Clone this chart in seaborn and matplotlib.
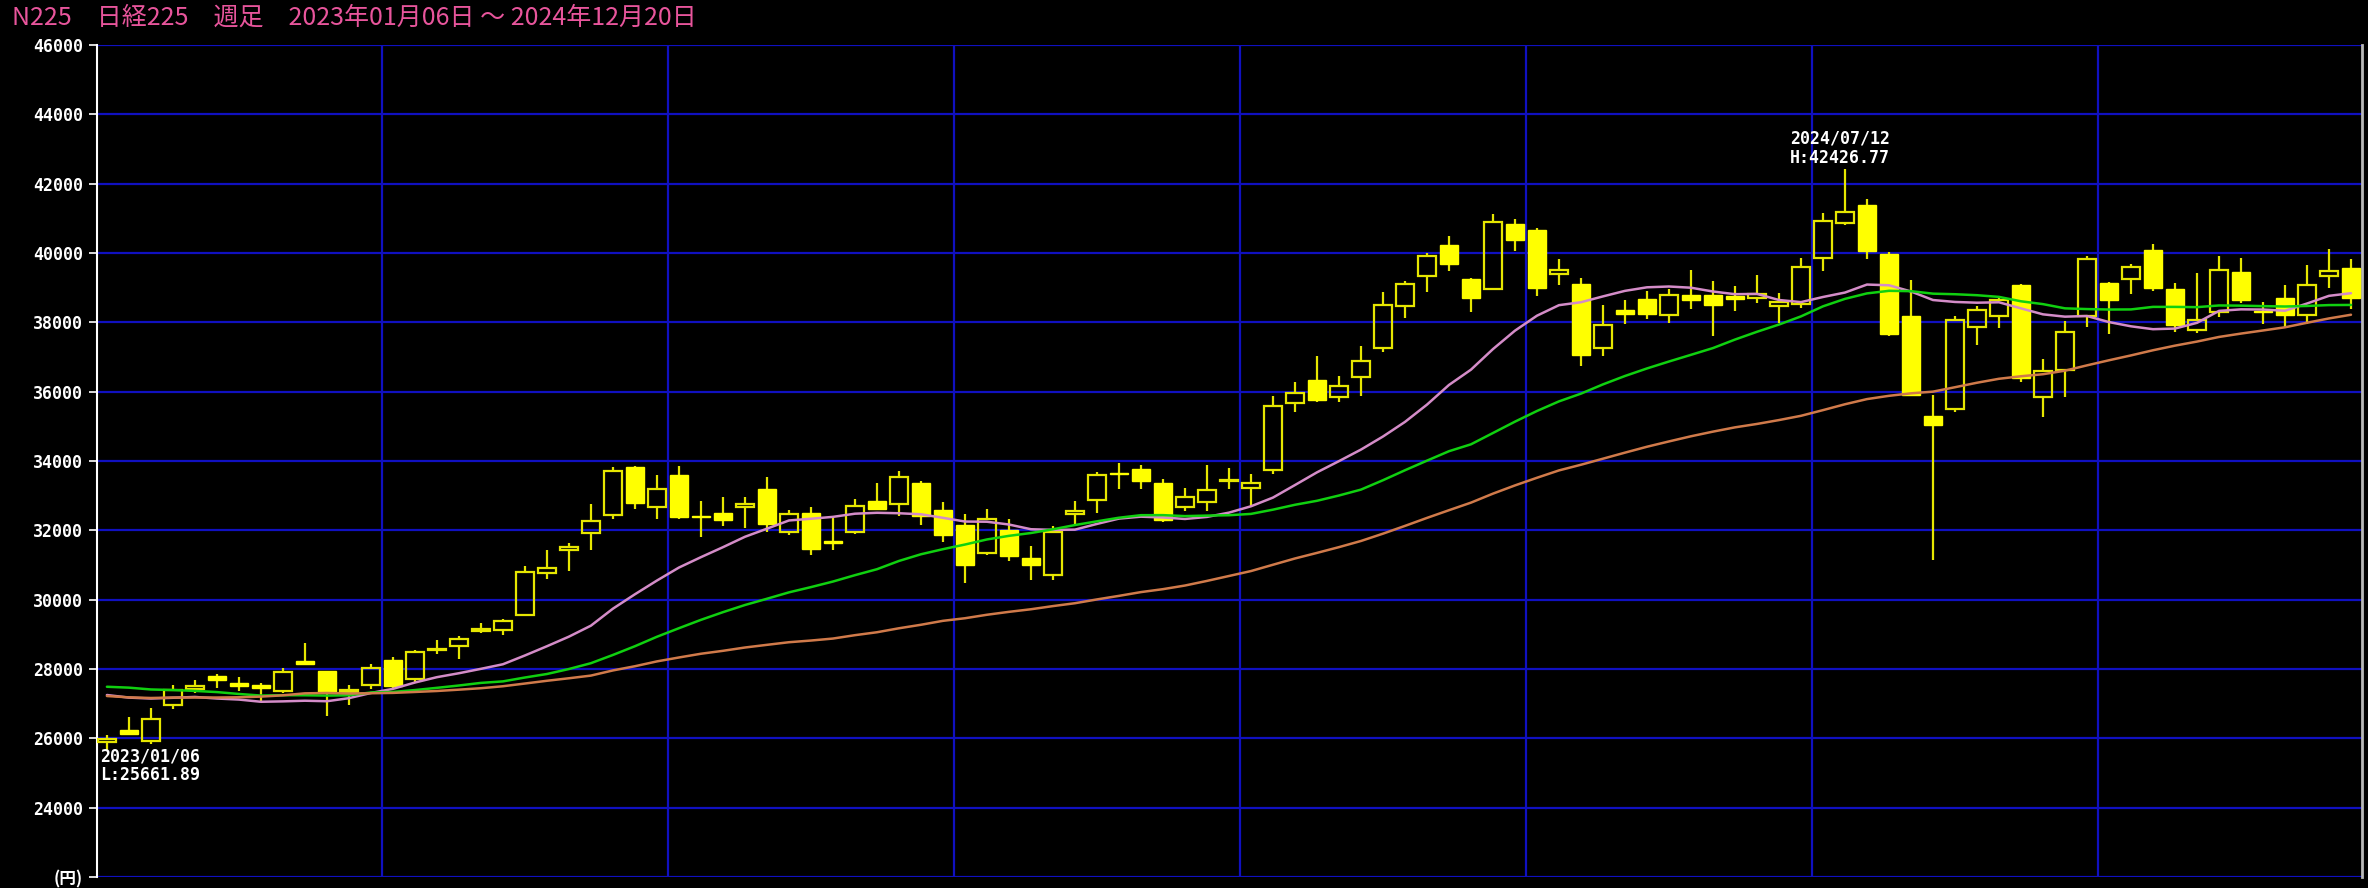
import numpy as np
import pandas as pd
import matplotlib
matplotlib.use("Agg")
import matplotlib.pyplot as plt
import seaborn as sns

# ---------------- data ----------------
title = "N225　日経225　週足　2023年01月06日 ～ 2024年12月20日"
start_date = "2023-01-06"

opens = [25880, 26230, 25910, 26950, 27430, 27810, 27600, 27552, 27361, 28237,
         27942, 27342, 27533, 28257, 27700, 28540, 28661, 29094, 29122, 29556,
         30777, 31441, 31912, 32432, 33836, 32682, 33586, 32420, 32499, 32682,
         33192, 31951, 32490, 31682, 31951, 32846, 32749, 33375, 32586, 32143,
         31355, 32018, 31201, 30700, 32480, 32865, 33663, 33760, 33365, 32682,
         32826, 33423, 33211, 33735, 35670, 36331, 35842, 36436, 37251, 38467,
         39329, 40220, 39262, 38975, 40824, 40651, 39398, 39106, 37262, 38368,
         38679, 38213, 38796, 38796, 38767, 38709, 38485, 38524, 39855, 40865,
         41394, 39980, 38190, 35304, 35497, 37863, 38171, 39066, 35843, 36632,
         38190, 39139, 39244, 40077, 38957, 37780, 38306, 39445, 38325, 38708,
         38210, 39330, 39569]
highs = [26100, 26610, 26870, 27540, 27685, 27866, 27771, 27600, 28028, 28751,
         27950, 27542, 28142, 28334, 28550, 28824, 28950, 29334, 29450, 30970,
         31422, 31624, 32749, 33836, 33850, 33586, 33856, 32846, 32971, 32971,
         33538, 32595, 32672, 32374, 32894, 33375, 33711, 33423, 32817, 32461,
         32605, 32336, 31547, 32124, 32846, 33682, 33933, 33885, 33490, 33230,
         33885, 33788, 33615, 35861, 36293, 37030, 36465, 37327, 38879, 39186,
         40000, 40479, 39270, 41130, 40987, 40728, 39815, 39281, 38504, 38631,
         38893, 38970, 39505, 39194, 39058, 39369, 38844, 39844, 41153, 42426.77,
         41567, 40018, 39230, 35910, 38190, 38460, 38748, 39114, 36940, 38027,
         39900, 39150, 39694, 40268, 39139, 39435, 39904, 39866, 38574, 39091,
         39646, 40124, 39818]
lows = [25661.89, 26100, 25830, 26860, 27295, 27438, 27361, 27047, 27295, 28123,
        26632, 26971, 27409, 27427, 27603, 28440, 28276, 29046, 28969, 29527,
        30604, 30826, 31431, 32316, 32605, 32336, 32336, 31816, 32124, 32076,
        31951, 31864, 31287, 31432, 31884, 32586, 32413, 32143, 31672, 30487,
        31300, 31114, 30556, 30566, 32143, 32509, 33202, 33202, 32249, 32557,
        32557, 33202, 32693, 33639, 35402, 35699, 35699, 35861, 37155, 38113,
        38879, 39483, 38285, 38946, 40057, 38764, 39077, 36733, 37029, 37951,
        38087, 37990, 38378, 37617, 38339, 38553, 37970, 38427, 39470, 40817,
        39826, 37594, 35862, 31156, 35400, 37354, 37835, 36267, 35266, 35843,
        37863, 37655, 38804, 38909, 37732, 37700, 38163, 38565, 37942, 37828,
        37952, 38976, 38373]
closes = [25973.85, 26119.52, 26553.53, 27382.56, 27509.46, 27670.98, 27513.13, 27453.48,
          27927.47, 28143.97, 27333.79, 27385.25, 28041.48, 27518.31, 28493.47, 28564.37,
          28856.44, 29157.95, 29388.30, 30808.35, 30916.31, 31524.22, 32265.17, 33706.08,
          32781.54, 33189.04, 32388.42, 32391.26, 32304.25, 32759.23, 32192.75, 32473.65,
          31450.76, 31624.28, 32710.62, 32606.84, 33533.09, 32402.41, 31857.62, 30994.67,
          32315.99, 31259.36, 30991.69, 31949.89, 32568.11, 33585.20, 33625.53, 33431.51,
          32307.86, 32970.55, 33169.05, 33464.17, 33377.42, 35577.11, 35963.27, 35751.07,
          36158.02, 36897.42, 38487.24, 39098.68, 39910.82, 39688.94, 38707.64, 40888.43,
          40369.44, 38992.08, 39523.55, 37068.35, 37934.76, 38236.07, 38229.11, 38787.38,
          38646.11, 38487.90, 38683.93, 38814.56, 38596.47, 39583.08, 40912.37, 41190.68,
          40063.79, 37667.41, 35909.70, 35025.00, 38062.67, 38364.27, 38647.75, 36391.47,
          36581.76, 37723.91, 39829.56, 38635.62, 39605.80, 38981.75, 37913.92, 38053.67,
          39500.37, 38642.91, 38283.85, 38208.03, 39091.17, 39470.44, 38701.90]
# weekly closes of the preceding year (needed for the moving averages)
closes_2022 = [28478.56, 28124.28, 27522.26, 26717.34, 27439.99, 27696.08, 27122.07, 26476.50,
               25985.47, 25162.78, 26827.43, 28149.84, 27665.98, 26985.80, 27093.19, 27105.26,
               26847.90, 27003.56, 26427.65, 26739.03, 26781.68, 27761.57, 28246.53, 25963.00,
               26491.97, 25935.62, 26517.19, 26788.47, 27914.66, 27801.64, 28175.87, 28546.98,
               28930.33, 28641.38, 27650.84, 28214.75, 27567.65, 27153.83, 25937.21, 27116.11,
               27090.76, 26890.58, 27105.20, 27199.74, 28263.57, 27899.77, 28283.03, 27777.90,
               27901.01, 27527.12, 26235.25, 26094.50]
ma_windows = [13, 26, 52]
ma_colors = ["#D48CC8", "#10D010", "#D07A4A"]
ytick_values = list(range(24000, 46001, 2000))
y_min, y_max = 22000, 46000
low_note = "2023/01/06\nL:25661.89"
high_note = "2024/07/12\nH:42426.77"

# ---------------- derived ----------------
n = len(closes)
xi = np.arange(n)
o = np.array(opens, float); h = np.array(highs, float)
l = np.array(lows, float); c = np.array(closes, float)
dates = pd.date_range(start_date, periods=n, freq="W-FRI")
allc = pd.Series(closes_2022 + closes)
mas = {w: allc.rolling(w).mean().to_numpy()[-n:] for w in ma_windows}
df = pd.DataFrame({"x": xi, **{f"ma{w}": mas[w] for w in ma_windows}})

# ---------------- style ----------------
sns.set_theme(style="dark")
plt.rcParams["font.family"] = ["Noto Sans CJK JP", "DejaVu Sans"]

fig = plt.figure(figsize=(23.68, 8.88), dpi=100, facecolor="black")
ax = fig.add_axes([97 / 2368, 11 / 888, 2265 / 2368, 832 / 888])
ax.set_facecolor("black")
ax.grid(False)

grid_c = "#1010C0"
for yv in range(y_min, y_max + 1, 2000):
    ax.axhline(yv, color=grid_c, lw=1.6, zorder=0)
q = dates.quarter
for k in range(1, n):
    if q[k] != q[k - 1]:
        ax.axvline(k - 0.5, color=grid_c, lw=1.6, zorder=0)

# candles
yellow = "#FFFF00"
hollow = "#E6E600"
up = c >= o
top = np.maximum(o, c)
bot = np.minimum(o, c)
w = 0.84
ax.vlines(xi, top, h, color=hollow, lw=1.6, zorder=2)
ax.vlines(xi, l, bot, color=hollow, lw=1.6, zorder=2)
ax.bar(xi[up], (top - bot)[up], bottom=bot[up], width=w, facecolor="none",
       edgecolor=hollow, linewidth=1.6, zorder=3)
ax.bar(xi[~up], (top - bot)[~up], bottom=bot[~up], width=w, facecolor=yellow,
       edgecolor=yellow, linewidth=1.0, zorder=3)

# moving averages
for wdw, col in zip(ma_windows, ma_colors):
    sns.lineplot(data=df, x="x", y=f"ma{wdw}", color=col, lw=1.8, ax=ax, zorder=4)

ax.set_xlim(-0.45, n - 0.5)
ax.set_ylim(y_min, y_max)
ax.set_xlabel("")
ax.set_ylabel("")
ax.set_xticks([])
ax.set_yticks([y_min] + ytick_values)
ax.set_yticklabels(["(円)"] + [str(v) for v in ytick_values])
ax.tick_params(axis="y", colors="white", length=6, width=1.2, pad=4, labelsize=12, left=True)
for lbl in ax.get_yticklabels():
    if lbl.get_text().startswith("("):
        lbl.set_fontfamily(["Noto Sans CJK JP", "DejaVu Sans"])
        lbl.set_fontweight("bold")
    else:
        lbl.set_fontfamily("DejaVu Sans Mono")
        lbl.set_fontweight("bold")
    lbl.set_color("white")

for s in ["top", "bottom"]:
    ax.spines[s].set_visible(False)
ax.spines["left"].set_color("white")
ax.spines["left"].set_linewidth(1.5)
ax.spines["right"].set_color("#B8B8B8")
ax.spines["right"].set_linewidth(2.0)

# annotations
ax.text(-0.32, 25740, low_note, color="white", family="DejaVu Sans Mono",
        fontweight="bold", fontsize=12, va="top", ha="left", linespacing=1.05, zorder=6)
ax.text(76.5, 43550, high_note, color="white", family="DejaVu Sans Mono",
        fontweight="bold", fontsize=12, va="top", ha="left", linespacing=1.05, zorder=6)

fig.text(12 / 2368, 1 - 18 / 888, title, color="#E8559C", fontsize=18,
         va="center", ha="left", family=["Noto Sans CJK JP", "DejaVu Sans"])

fig.savefig("out.png", dpi=100, facecolor="black")
